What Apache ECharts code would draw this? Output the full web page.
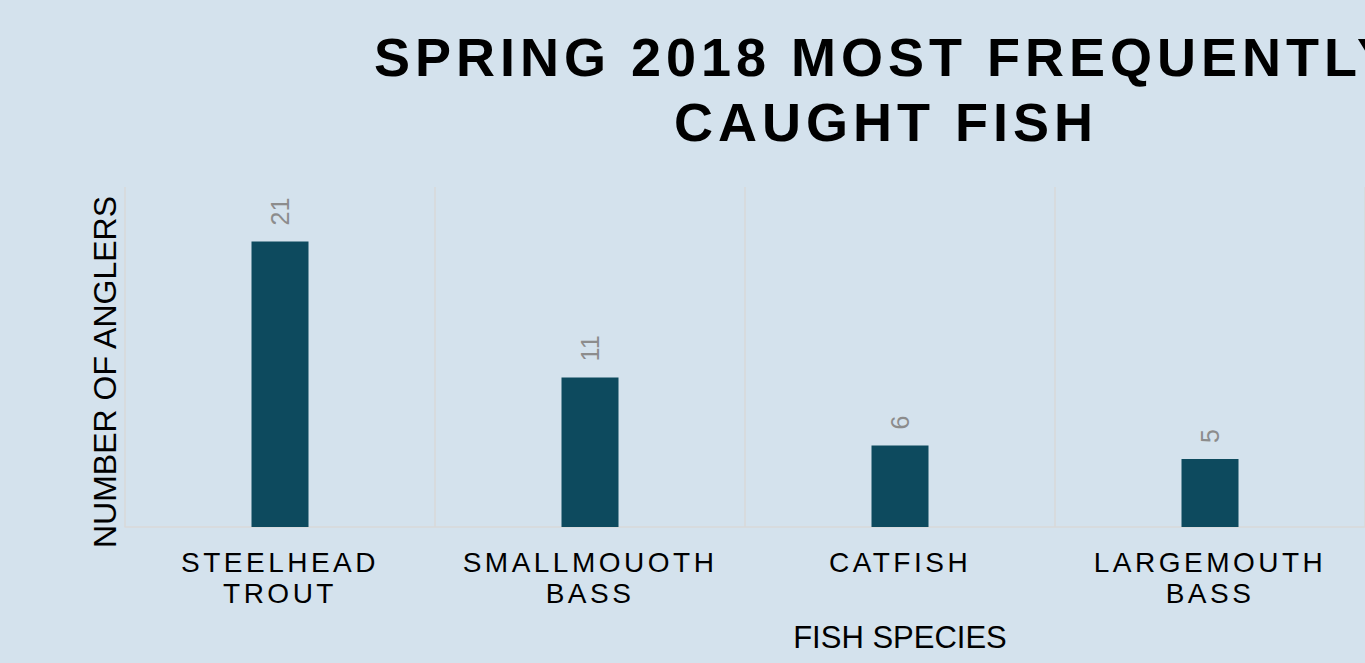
<!DOCTYPE html>
<html>
<head>
<meta charset="utf-8">
<title>Spring 2018 most frequently caught fish</title>
<script src="https://cdn.jsdelivr.net/npm/echarts@6/dist/echarts.min.js"></script>
<style>
  html, body { margin: 0; padding: 0; background: #d4e2ed; overflow: hidden; }
  #chart { width: 1365px; height: 663px; }
  /* tracked lettering: headline and species names */
  #chart text[style*="sans-serif"] { letter-spacing: 5px; }
  #chart text[style*="Arial"] { letter-spacing: 3.5px; }
</style>
</head>
<body>
<div id="chart"></div>
<script>
// Survey results: anglers reporting each species as their most frequent catch
const titleLines = ['SPRING 2018 MOST FREQUENTLY', 'CAUGHT FISH'];
const species = ['STEELHEAD\nTROUT', 'SMALLMOUOTH\nBASS', 'CATFISH', 'LARGEMOUTH\nBASS'];
const anglers = [21, 11, 6, 5];
const xAxisTitle = 'FISH SPECIES';
const yAxisTitle = 'NUMBER OF ANGLERS';

const FONT_BASE = '"Liberation Sans"';
const FONT_HEAD = '"Liberation Sans", sans-serif';
const FONT_CAT = '"Liberation Sans", Arial';

const chart = echarts.init(document.getElementById('chart'), null, { renderer: 'svg' });

chart.setOption({
  backgroundColor: '#d4e2ed',
  animation: false,
  title: {
    text: titleLines.join('\n'),
    left: 886,
    top: 24,
    padding: 0,
    textAlign: 'center',
    textStyle: {
      fontFamily: FONT_HEAD,
      fontSize: 54,
      fontWeight: 'bold',
      lineHeight: 65,
      color: '#000000'
    }
  },
  grid: { left: 125, right: -4, top: 187, bottom: 136, containLabel: false },
  xAxis: {
    type: 'category',
    data: species,
    name: xAxisTitle,
    nameLocation: 'middle',
    nameGap: 95,
    nameTextStyle: {
      fontFamily: FONT_BASE,
      fontSize: 31,
      color: '#000000',
      padding: [0, 0, 0, 310]
    },
    axisLine: { show: true, lineStyle: { color: '#d9d9d9', width: 1.5 } },
    axisTick: { show: false },
    axisLabel: {
      interval: 0,
      margin: 20,
      fontFamily: FONT_CAT,
      fontSize: 28,
      lineHeight: 31,
      color: '#000000'
    },
    splitLine: { show: true, interval: 0, lineStyle: { color: '#d9d9d9', width: 1.5 } }
  },
  yAxis: {
    type: 'value',
    min: 0,
    max: 25,
    name: yAxisTitle,
    nameLocation: 'middle',
    nameGap: 4,
    nameTextStyle: {
      fontFamily: FONT_BASE,
      fontSize: 32,
      color: '#000000',
      padding: [0, 30, 0, 0]
    },
    axisLine: { show: false },
    axisTick: { show: false },
    axisLabel: { show: false },
    splitLine: { show: false }
  },
  series: [{
    type: 'bar',
    data: anglers,
    barWidth: 57,
    itemStyle: { color: '#0d4a5e' },
    label: {
      show: true,
      position: 'top',
      distance: 16,
      rotate: 90,
      align: 'left',
      verticalAlign: 'middle',
      fontFamily: FONT_BASE,
      fontSize: 25,
      color: '#8c8c8c'
    }
  }]
});
</script>
</body>
</html>
